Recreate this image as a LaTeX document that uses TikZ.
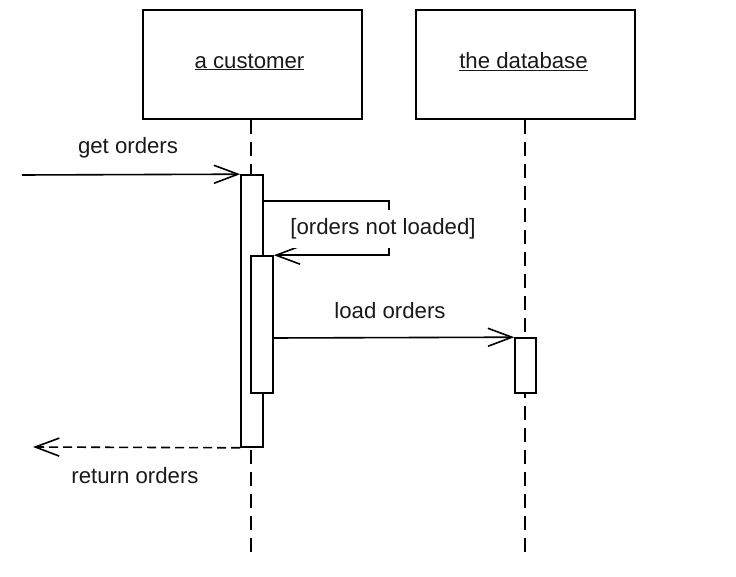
\documentclass[tikz,border=0pt]{standalone}
\usepackage{fontspec}
\setmainfont{Liberation Sans}
\usetikzlibrary{arrows.meta}
\begin{document}
\begin{tikzpicture}[x=1pt,y=-1pt,
  every node/.style={font=\fontsize{22.2}{26}\selectfont, text=black!90},
  objbox/.style={draw, line width=1.7pt, minimum width=219pt, minimum height=109pt, inner sep=0pt},
  actbar/.style={draw, fill=white, line width=1.6pt, minimum width=22pt, inner sep=0pt},
  lifeline/.style={line width=1.6pt, dash pattern=on 14pt off 8pt},
  msg/.style={line width=1.6pt, -{Straight Barb[length=24pt,width=18pt,line width=1.6pt]}},
  ret/.style={msg, dash pattern=on 9pt off 5pt},
  lbl/.style={inner sep=1pt}
]
\useasboundingbox (0,0) rectangle (736,577);
% objects
\node[objbox] (cust) at (252.5,64.5) {};
\node[objbox] (db) at (525.5,64.5) {};
\node[lbl] (custname) at (249.5,62) {\underline{a customer}};
\node[lbl] (dbname) at (523.5,62) {\underline{the database}};
% lifeline end points
\coordinate (custend) at (251,557);
\coordinate (dbend) at (525,557);
\draw[lifeline] (cust.south -| custend) -- (custend);
\draw[lifeline] (db.south -| dbend) -- (dbend);
% activation bars
\node[actbar, minimum height=272pt] (outer) at (252,311) {};
\node[actbar, minimum height=137pt] (inner) at (262,324.5) {};
\node[actbar, minimum width=21pt, minimum height=55pt] (dbbar) at (525.5,365.5) {};
% get orders
\coordinate (start) at (22,175);
\draw[msg] (start) -- (outer.north west);
\node[lbl] (getlbl) at (128,148) {get orders};
% self call
\coordinate (sc) at (263,201);
\coordinate (scr) at (389,201);
\draw[msg] (sc) -- (scr) -- (scr |- inner.north east) -- (inner.north east);
\node[lbl, fill=white, minimum height=38pt] (cond) at (383,229) {[orders not loaded]};
% load orders
\coordinate (lo) at (273,338);
\draw[msg] (lo) -- (dbbar.north west);
\node[lbl] (loadlbl) at (390,311) {load orders};
% return orders
\coordinate (retend) at (33,447);
\draw[ret] (outer.south west) -- (retend);
\node[lbl] (retlbl) at (135,476) {return orders};
\end{tikzpicture}
\end{document}
